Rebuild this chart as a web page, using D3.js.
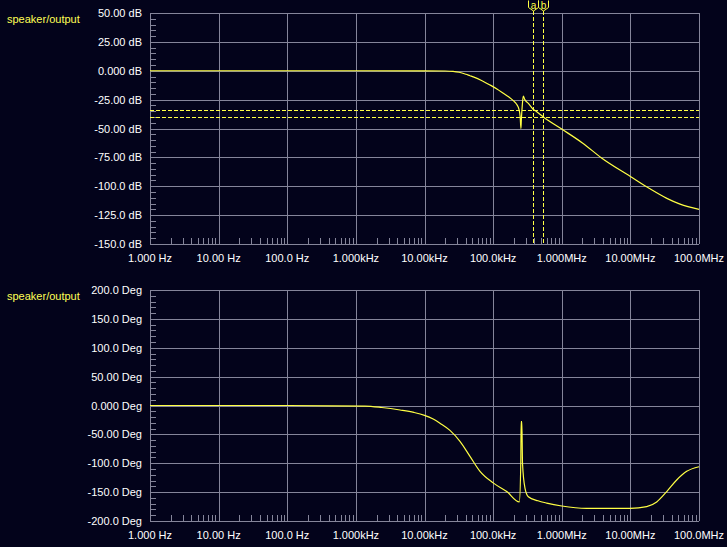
<!DOCTYPE html>
<html><head><meta charset="utf-8">
<script src="https://cdn.jsdelivr.net/npm/d3@7"></script>
<style>
html,body{margin:0;padding:0;background:#03031b;}
svg{display:block;}
text{font-family:"Liberation Sans",Arial,sans-serif;}
</style></head>
<body>
<script>
// ---- data ----
const seriesName = "speaker/output";
const xTickFreqs = [1, 10, 100, 1e3, 1e4, 1e5, 1e6, 1e7, 1e8];
const xTickLabels = ["1.000 Hz","10.00 Hz","100.0 Hz","1.000kHz","10.00kHz","100.0kHz","1.000MHz","10.00MHz","100.0MHz"];
const magTicks = [50, 25, 0, -25, -50, -75, -100, -125, -150];
const magTickLabels = ["50.00 dB","25.00 dB","0.000 dB","-25.00 dB","-50.00 dB","-75.00 dB","-100.0 dB","-125.0 dB","-150.0 dB"];
const phaseTicks = [200, 150, 100, 50, 0, -50, -100, -150, -200];
const phaseTickLabels = ["200.0 Deg","150.0 Deg","100.0 Deg","50.00 Deg","0.000 Deg","-50.00 Deg","-100.0 Deg","-150.0 Deg","-200.0 Deg"];

const magFreq = [1, 1000, 10000, 20000, 26000, 32000, 40000, 46000, 51400, 70000, 90000, 115000, 140700, 170000, 196700, 220000, 238000, 248000, 254000, 258000, 266000, 275000, 290000, 326000, 385000, 432000, 540000, 1e6, 2e6, 3.8e6, 1e7, 1.9e7, 3.4e7, 5.3e7, 1e8];
const magDb   = [0, 0, -0.05, -0.2, -0.5, -1.3, -3.0, -4.3, -5.3, -8.8, -12.3, -16, -19.5, -22.8, -25.9, -29, -33.5, -40, -50, -42, -30, -22, -25, -28.2, -33.5, -35.4, -40, -50.5, -62.5, -75.5, -91.5, -102, -110.5, -115.5, -120];

const phaseFreq = [1, 100, 450, 1360, 2380, 4400, 7000, 10000, 13400, 17000, 23500, 32900, 46000, 64400, 100000, 158000, 241000, 253000, 256000, 262000, 268000, 291000, 326000, 450000, 604000, 1e6, 2.3e6, 1e7, 1.73e7, 2.42e7, 3.39e7, 4.73e7, 6.62e7, 1e8];
const phaseDeg  = [0, 0, -0.5, -1, -3.5, -7.8, -12, -17, -23.5, -31, -43, -62, -88, -114, -134, -149, -167, -100, -28, -28, -100, -143, -158, -165, -169, -174, -178, -178, -175, -167, -149, -129, -114, -106];

const cursorNames  = ["a", "b"];
const cursorFreqs  = [387000, 540000];
const cursorLevels = [-34, -40];

// ---- layout ----
const W = 727, H = 547;
const left = 150, right = 699;
const top1 = 13, bot1 = 244, top2 = 290, bot2 = 521;
const bg = "#03031b", gridC = "#85859a", yellow = "#ffff44", textC = "#ffffff";

const svg = d3.select("body").append("svg").attr("width", W).attr("height", H);
svg.append("rect").attr("width", W).attr("height", H).attr("fill", bg);

const x = d3.scaleLog().domain([1, 1e8]).range([left, right]);

function panel(y0, y1, domain, ticks, labels, minorStep, fr, vals) {
  const y = d3.scaleLinear().domain(domain).range([y1, y0]);
  const g = svg.append("g");
  const gl = g.append("g").attr("shape-rendering", "crispEdges");
  gl.selectAll(".hg").data(ticks).enter().append("line")
    .attr("x1", left).attr("x2", right)
    .attr("y1", d => Math.round(y(d)) + 0.5).attr("y2", d => Math.round(y(d)) + 0.5)
    .attr("stroke", gridC).attr("stroke-width", 1);
  gl.selectAll(".vg").data(xTickFreqs).enter().append("line")
    .attr("x1", d => Math.round(x(d)) + 0.5).attr("x2", d => Math.round(x(d)) + 0.5)
    .attr("y1", y0).attr("y2", y1)
    .attr("stroke", gridC).attr("stroke-width", 1);
  const minors = d3.range(domain[0], domain[1] + 1e-9, minorStep).filter(v => ticks.indexOf(v) < 0);
  gl.selectAll(".ym").data(minors).enter().append("line")
    .attr("x1", left).attr("x2", left + 6)
    .attr("y1", d => Math.round(y(d)) + 0.5).attr("y2", d => Math.round(y(d)) + 0.5)
    .attr("stroke", gridC);
  const xm = [];
  for (let dec = 0; dec < 8; dec++) for (let k = 2; k <= 9; k++) xm.push(k * Math.pow(10, dec));
  gl.selectAll(".xm").data(xm).enter().append("line")
    .attr("x1", d => Math.round(x(d)) + 0.5).attr("x2", d => Math.round(x(d)) + 0.5)
    .attr("y1", y1 - 6).attr("y2", y1)
    .attr("stroke", gridC);
  g.selectAll(".yl").data(ticks).enter().append("text")
    .attr("x", 142).attr("y", d => y(d) + 4)
    .attr("text-anchor", "end").attr("font-size", 11).attr("fill", textC)
    .text((d, i) => labels[i]);
  g.selectAll(".xl").data(xTickFreqs).enter().append("text")
    .attr("x", d => x(d)).attr("y", y1 + 18)
    .attr("text-anchor", "middle").attr("font-size", 11).attr("fill", textC)
    .text((d, i) => xTickLabels[i]);
  g.append("text").attr("x", 7).attr("y", y0 + 10).attr("font-size", 11)
    .attr("fill", "#ffff55").text(seriesName);
  const pts = fr.map((f, i) => [f, vals[i]]);
  g.append("path").datum(pts)
    .attr("d", d3.line().x(d => x(d[0])).y(d => y(d[1])).curve(d3.curveMonotoneX))
    .attr("fill", "none").attr("stroke", yellow).attr("stroke-width", 1.2);
  return y;
}

const yMag = panel(top1, bot1, [-150, 50], magTicks, magTickLabels, 5, magFreq, magDb);
panel(top2, bot2, [-200, 200], phaseTicks, phaseTickLabels, 10, phaseFreq, phaseDeg);

// cursors
const cg = svg.append("g");
const cl = cg.append("g").attr("shape-rendering", "crispEdges");
cursorLevels.forEach(lv => {
  cl.append("line").attr("x1", left).attr("x2", right)
    .attr("y1", Math.round(yMag(lv)) + 0.5).attr("y2", Math.round(yMag(lv)) + 0.5)
    .attr("stroke", yellow).attr("stroke-width", 1).attr("stroke-dasharray", "4,2");
});
cursorFreqs.forEach((f, i) => {
  const cx = Math.round(x(f)) + 0.5;
  cl.append("line").attr("x1", cx).attr("x2", cx).attr("y1", 11).attr("y2", bot1)
    .attr("stroke", yellow).attr("stroke-width", 1).attr("stroke-dasharray", "4,2");
  cg.append("path")
    .attr("d", `M${cx - 5},0.5 L${cx - 5},7.5 L${cx},11 L${cx + 5},7.5 L${cx + 5},0.5`)
    .attr("fill", bg).attr("stroke", yellow);
  cg.append("text").attr("x", cx).attr("y", 8.5).attr("text-anchor", "middle")
    .attr("font-size", 10).attr("fill", yellow).text(cursorNames[i]);
});
</script>
</body></html>
